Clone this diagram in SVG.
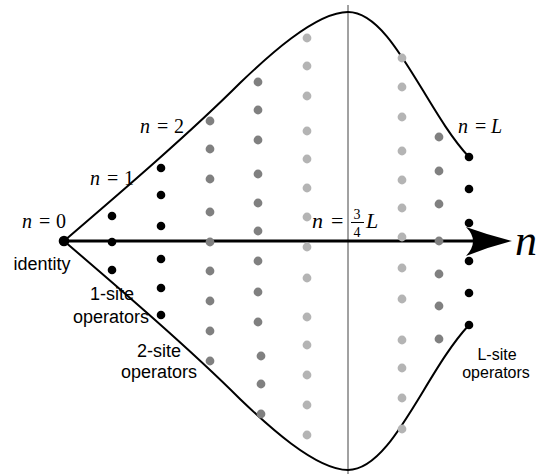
<svg xmlns="http://www.w3.org/2000/svg" width="540" height="474" viewBox="0 0 540 474">
<style>
.m{font-family:"Liberation Serif","Times New Roman",serif;font-size:20px;fill:#000}
.i{font-style:italic}
.s{font-family:"Liberation Sans",Arial,sans-serif;font-size:18px;fill:#000;text-anchor:middle}
.s16{font-size:16px}
.k{fill:#000}
.d{fill:#808080}
.l{fill:#b4b4b4}
.curve{fill:none;stroke:#000;stroke-width:2}
</style>
<rect width="540" height="474" fill="#fff"/>
<g id="connectors">
<line x1="348" y1="5" x2="348" y2="474" stroke="#444" stroke-width="1"/>
<path class="curve" d="M64,241 C120,193 190,133 240,83 C265,59 315,12 348,12 C392,12 425,110 469,157"/>
<path class="curve" d="M64,241 C120,289 190,349 240,399 C265,423 315,470 348,470 C392,470 425,372 469,325"/>
<line x1="64" y1="241" x2="480" y2="241" stroke="#000" stroke-width="3"/>
<path d="M512,241 Q488,235 466,227 Q480,241 466,256 Q488,247 512,241 Z" fill="#000"/>
</g>
<g id="col0"><circle class="k" cx="64" cy="241" r="5.3"/></g>
<g id="col1">
<circle class="k" cx="112" cy="216" r="4.3"/><circle class="k" cx="112" cy="242" r="4.3"/><circle class="k" cx="112" cy="270" r="4.3"/>
</g>
<g id="col2">
<circle class="k" cx="161" cy="168" r="4.3"/><circle class="k" cx="161" cy="195" r="4.3"/><circle class="k" cx="161" cy="226" r="4.3"/><circle class="k" cx="161" cy="259" r="4.3"/><circle class="k" cx="161" cy="288" r="4.3"/><circle class="k" cx="161" cy="315" r="4.3"/>
</g>
<g id="col3">
<circle class="d" cx="210" cy="121" r="4.4"/><circle class="d" cx="210" cy="149" r="4.4"/><circle class="d" cx="210" cy="179" r="4.4"/><circle class="d" cx="210" cy="212" r="4.4"/><circle class="d" cx="210" cy="242" r="4.4"/><circle class="d" cx="210" cy="271" r="4.4"/><circle class="d" cx="210" cy="301" r="4.4"/><circle class="d" cx="210" cy="331" r="4.4"/><circle class="d" cx="210" cy="361" r="4.4"/>
</g>
<g id="col4">
<circle class="d" cx="258" cy="82" r="4.4"/><circle class="d" cx="258" cy="110" r="4.4"/><circle class="d" cx="258" cy="140" r="4.4"/><circle class="d" cx="258" cy="174" r="4.4"/><circle class="d" cx="258" cy="203" r="4.4"/><circle class="d" cx="258" cy="231" r="4.4"/><circle class="d" cx="258" cy="261" r="4.4"/><circle class="d" cx="258" cy="292" r="4.4"/><circle class="d" cx="258" cy="322" r="4.4"/><circle class="d" cx="261" cy="356" r="4.4"/><circle class="d" cx="261" cy="384" r="4.4"/><circle class="d" cx="261" cy="414" r="4.4"/>
</g>
<g id="col5">
<circle class="l" cx="307" cy="38" r="4.4"/><circle class="l" cx="307" cy="66" r="4.4"/><circle class="l" cx="307" cy="96" r="4.4"/><circle class="l" cx="307" cy="131" r="4.4"/><circle class="l" cx="307" cy="159" r="4.4"/><circle class="l" cx="307" cy="188" r="4.4"/><circle class="l" cx="307" cy="217" r="4.4"/><circle class="l" cx="307" cy="247" r="4.4"/><circle class="l" cx="307" cy="278" r="4.4"/><circle class="l" cx="307" cy="317" r="4.4"/><circle class="l" cx="307" cy="345" r="4.4"/><circle class="l" cx="307" cy="375" r="4.4"/><circle class="l" cx="307" cy="405" r="4.4"/><circle class="l" cx="307" cy="435" r="4.4"/>
</g>
<g id="col6">
<circle class="l" cx="402" cy="58" r="4.4"/><circle class="l" cx="402" cy="87" r="4.4"/><circle class="l" cx="402" cy="117" r="4.4"/><circle class="l" cx="402" cy="151" r="4.4"/><circle class="l" cx="402" cy="180" r="4.4"/><circle class="l" cx="402" cy="208" r="4.4"/><circle class="l" cx="402" cy="237" r="4.4"/><circle class="l" cx="402" cy="268" r="4.4"/><circle class="l" cx="402" cy="299" r="4.4"/><circle class="l" cx="402" cy="340" r="4.4"/><circle class="l" cx="402" cy="368" r="4.4"/><circle class="l" cx="402" cy="398" r="4.4"/><circle class="l" cx="402" cy="429" r="4.4"/>
</g>
<g id="col7">
<circle class="d" cx="439" cy="137" r="4.4"/><circle class="d" cx="439" cy="171" r="4.4"/><circle class="d" cx="439" cy="204" r="4.4"/><circle class="d" cx="439" cy="241" r="4.4"/><circle class="d" cx="439" cy="274" r="4.4"/><circle class="d" cx="439" cy="306" r="4.4"/><circle class="d" cx="439" cy="339" r="4.4"/>
</g>
<g id="col8">
<circle class="k" cx="469" cy="157" r="4.3"/><circle class="k" cx="469" cy="189" r="4.3"/><circle class="k" cx="469" cy="223" r="4.3"/><circle class="k" cx="469" cy="261" r="4.3"/><circle class="k" cx="469" cy="293" r="4.3"/><circle class="k" cx="469" cy="325" r="4.3"/>
</g>
<g id="labels">
<text class="m" y="228"><tspan class="i" x="22">n</tspan><tspan x="39">=</tspan><tspan x="56">0</tspan></text>
<text class="m" y="185"><tspan class="i" x="90">n</tspan><tspan x="107">=</tspan><tspan x="124">1</tspan></text>
<text class="m" y="133"><tspan class="i" x="140">n</tspan><tspan x="157">=</tspan><tspan x="174">2</tspan></text>
<text class="m" y="133"><tspan class="i" x="458">n</tspan><tspan x="475">=</tspan><tspan class="i" x="491">L</tspan></text>
<text class="m" y="228" style="font-size:22px"><tspan class="i" x="312">n</tspan><tspan x="331">=</tspan><tspan class="i" x="366">L</tspan></text>
<text class="m" x="357" y="219" style="font-size:14px;text-anchor:middle">3</text>
<line x1="351" y1="222.5" x2="364" y2="222.5" stroke="#000" stroke-width="1"/>
<text class="m" x="357" y="237" style="font-size:14px;text-anchor:middle">4</text>
<text class="m i" x="515" y="255" style="font-size:44px">n</text>
<text class="s" x="42" y="270">identity</text>
<text class="s" x="112" y="300">1-site</text>
<text class="s" x="111" y="323">operators</text>
<text class="s" x="159" y="357">2-site</text>
<text class="s" x="159" y="378">operators</text>
<text class="s s16" x="497" y="360">L-site</text>
<text class="s s16" x="496" y="378">operators</text>
</g>
</svg>
